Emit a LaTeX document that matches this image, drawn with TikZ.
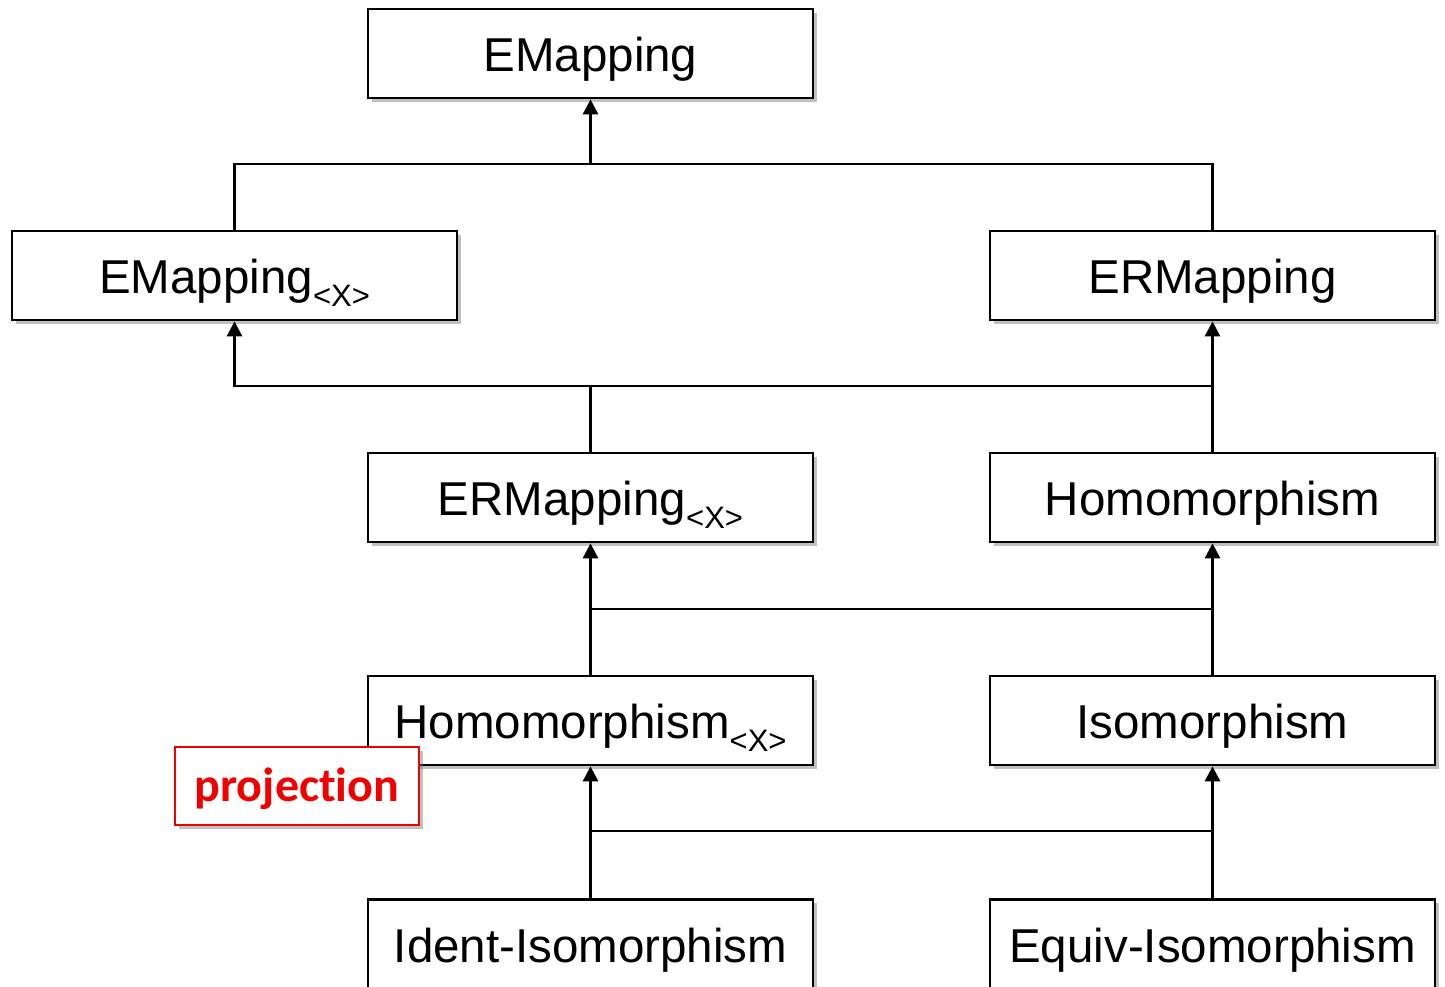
\documentclass[tikz,border=0pt]{standalone}
\usepackage{fontspec}
\setmainfont{Liberation Sans}
\newfontfamily\projfont[Ligatures=NoCommon]{Carlito}
\usetikzlibrary{arrows.meta,shadows}
\definecolor{projred}{RGB}{240,0,0}
\newcommand{\subX}{\raisebox{-13pt}{\fontsize{31}{31}\selectfont<X>}}
\tikzset{
  cls/.style={draw=black, line width=2.7pt, fill=white, minimum width=445pt, minimum height=89pt,
    inner sep=0pt, font=\fontsize{47.5}{47.5}\selectfont, text height=36pt, text depth=0pt,
    drop shadow={shadow xshift=3.5pt, shadow yshift=-3.5pt, opacity=0.45, fill=black!55}},
  projbox/.style={draw=projred, line width=2.2pt, fill=white, minimum width=244pt, minimum height=78pt,
    inner sep=0pt, text=projred, font=\projfont\bfseries\fontsize{48}{48}\selectfont, text height=30pt, text depth=0pt,
    drop shadow={shadow xshift=3.5pt, shadow yshift=-3.5pt, opacity=0.45, fill=black!55}},
  conn/.style={line width=2.7pt, draw=black},
  arr/.style={conn, -{Triangle[width=15pt,length=15pt]}}
}
\begin{document}
\begin{tikzpicture}[x=1pt,y=-1pt]
\useasboundingbox (0,0) rectangle (1445,986);
\node[cls] (em) at (590.5,53.5) {EMapping};
\node[cls] (emx) at (234.5,275.5) {EMapping\subX};
\node[cls] (erm) at (1212.5,275.5) {ERMapping};
\node[cls] (ermx) at (590.5,497.5) {ERMapping\subX};
\node[cls] (hom) at (1212.5,497.5) {Homomorphism};
\node[cls] (homx) at (590.5,720.5) {Homomorphism\subX};
\node[cls] (iso) at (1212.5,720.5) {Isomorphism};
\node[cls] (ident) at (590.5,944) {Ident-Isomorphism};
\node[cls] (equiv) at (1212.5,944) {Equiv-Isomorphism};
\node[projbox] (proj) at (297,786) {projection};
% bus 1
\coordinate (b1) at (590.5,164);
\draw[conn] (emx.north) |- (b1) -| (erm.north);
\draw[arr] (b1) -- (em.south);
% bus 2
\coordinate (b2) at (590.5,386);
\draw[conn] (ermx.north) -- (b2);
\draw[arr] (b2) -| (emx.south);
\draw[conn] (b2) -- (b2 -| hom.north);
\draw[arr] (hom.north) -- (erm.south);
% bus 3
\coordinate (b3) at (590.5,609);
\draw[conn] (homx.north) -- (b3);
\draw[arr] (b3) -- (ermx.south);
\draw[conn] (b3) -- (b3 -| iso.north);
\draw[arr] (iso.north) -- (hom.south);
% bus 4
\coordinate (b4) at (590.5,831);
\draw[conn] (ident.north) -- (b4);
\draw[arr] (b4) -- (homx.south);
\draw[conn] (b4) -- (b4 -| equiv.north);
\draw[arr] (equiv.north) -- (iso.south);
\end{tikzpicture}
\end{document}
